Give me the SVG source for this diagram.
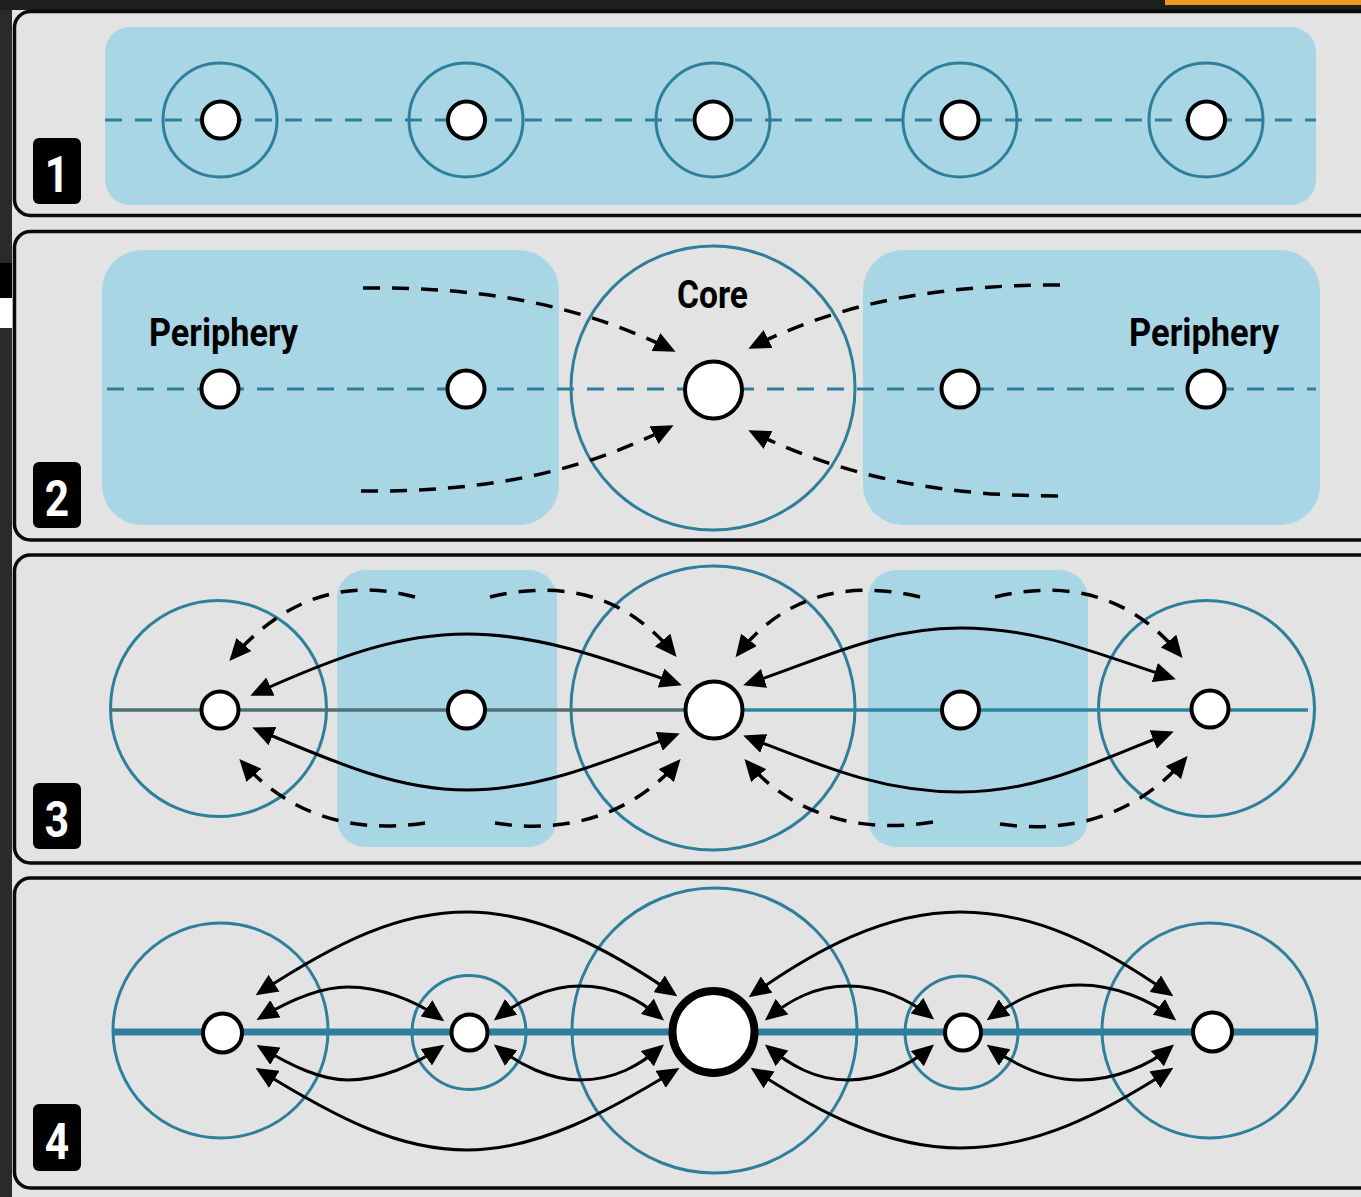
<svg xmlns="http://www.w3.org/2000/svg" width="1361" height="1197" viewBox="0 0 1361 1197">
<style>
.panel{fill:#e3e3e3;stroke:#0a0a0a;stroke-width:3.5}
.blue{fill:#a8d6e5}
.ring{fill:none;stroke:#2e7f9b;stroke-width:3}
.node{fill:#fff;stroke:#000;stroke-width:4}
.node.big{stroke-width:8}
.tdash{fill:none;stroke:#2e7f9b;stroke-width:3.2;stroke-dasharray:17 13}
.kdash{fill:none;stroke:#000;stroke-width:3.5;stroke-dasharray:17 12;marker-end:url(#ah)}
.arc{fill:none;stroke:#000;stroke-width:3;marker-start:url(#ah);marker-end:url(#ah)}
.lblbox{fill:#000}
.lbl{fill:#fff;font-family:Roboto,"Liberation Sans",sans-serif;font-weight:bold;font-size:50px;text-anchor:middle}
.title{fill:#000;font-family:Roboto,"Liberation Sans",sans-serif;font-weight:bold;font-size:38px}
</style>
<defs>
<marker id="ah" viewBox="0 0 22 20" refX="18" refY="10" markerWidth="22" markerHeight="20" markerUnits="userSpaceOnUse" orient="auto-start-reverse">
<path d="M0,0 L22,10 L0,20 z" fill="#000"/>
</marker>
</defs>
<rect x="0" y="0" width="1361" height="1197" fill="#e3e3e3"/>
<rect x="0" y="0" width="12" height="1197" fill="#2a2a2a"/>
<rect x="0" y="0" width="1361" height="10" fill="#1e1e1e"/>
<rect x="1165" y="0" width="196" height="5" fill="#f0961e"/>
<rect x="0" y="263" width="12" height="35" fill="#000"/>
<rect x="0" y="298" width="12" height="30" fill="#fff"/>

<g id="panels">
<rect class="panel" x="14.5" y="11.5" width="1400" height="204" rx="16"/>
<rect class="panel" x="14.5" y="231.5" width="1400" height="308.5" rx="16"/>
<rect class="panel" x="14.5" y="555" width="1400" height="308" rx="16"/>
<rect class="panel" x="14.5" y="878" width="1400" height="310" rx="16"/>
</g>

<g id="regions">
<rect class="blue" x="105" y="27" width="1211" height="178" rx="25"/>
<rect class="blue" x="102" y="250" width="457" height="275" rx="40"/>
<rect class="blue" x="863" y="250" width="457" height="275" rx="40"/>
<rect class="blue" x="337" y="570" width="220" height="277" rx="28"/>
<rect class="blue" x="868" y="570" width="220" height="277" rx="28"/>
</g>

<g id="zones">
<circle class="ring" cx="220" cy="120" r="57"/>
<circle class="ring" cx="466" cy="120" r="57"/>
<circle class="ring" cx="713" cy="120" r="57"/>
<circle class="ring" cx="960" cy="120" r="57"/>
<circle class="ring" cx="1206" cy="120" r="57"/>
<circle class="ring" cx="713" cy="388" r="142"/>
<circle class="ring" cx="218.5" cy="708.5" r="108"/>
<circle class="ring" cx="713" cy="708" r="142"/>
<circle class="ring" cx="1206.5" cy="708.5" r="108"/>
<circle class="ring" cx="220.5" cy="1030.5" r="107.5"/>
<circle class="ring" cx="469" cy="1032.5" r="57"/>
<circle class="ring" cx="714.5" cy="1030.5" r="142.5"/>
<circle class="ring" cx="961.5" cy="1032.5" r="56.5"/>
<circle class="ring" cx="1209.5" cy="1030.5" r="107.5"/>
</g>

<g id="axes">
<line class="tdash" x1="105" y1="120" x2="1316" y2="120"/>
<line class="tdash" x1="107" y1="389" x2="1316" y2="389"/>
<line x1="111" y1="710" x2="690" y2="710" stroke="#4f6e76" stroke-width="3.5"/>
<line x1="740" y1="710" x2="1308" y2="710" stroke="#2d86a0" stroke-width="3.5"/>
<line x1="113" y1="1032" x2="1316" y2="1032" stroke="#2e7f9b" stroke-width="7"/>
</g>

<g id="connectors">
<path class="kdash" d="M363,288 C470,287 570,300 672,350"/>
<path class="kdash" d="M361,491 C470,492 570,478 670,427"/>
<path class="kdash" d="M1060,285 C950,285 850,298 752,347"/>
<path class="kdash" d="M1058,496 C950,496 850,480 752,432"/>

<path class="arc" d="M254,694 C340,655 400,634 467,634 C540,634 610,660 678,684"/>
<path class="arc" d="M256,729 C340,765 400,790 467,790 C540,790 610,760 676,735"/>
<path class="arc" d="M747,684 C820,660 880,628 960,628 C1040,628 1100,655 1172,678"/>
<path class="arc" d="M747,737 C820,765 880,792 960,792 C1040,792 1100,760 1170,733"/>
<path class="kdash" d="M415,597 C345,578 285,598 232,658"/>
<path class="kdash" d="M490,597 C570,578 630,600 674,654"/>
<path class="kdash" d="M920,597 C840,578 780,600 738,654"/>
<path class="kdash" d="M995,597 C1075,578 1135,600 1180,655"/>
<path class="kdash" d="M425,823 C345,835 285,810 242,762"/>
<path class="kdash" d="M495,823 C570,835 635,812 678,762"/>
<path class="kdash" d="M933,822 C855,835 790,812 747,762"/>
<path class="kdash" d="M1000,824 C1075,835 1140,812 1185,759"/>

<path class="arc" d="M259,993 C340,940 400,912 467,912 C540,912 610,950 674,994"/>
<path class="arc" d="M259,1070 C340,1120 400,1150 467,1150 C540,1150 610,1110 676,1070"/>
<path class="arc" d="M260,1018 C290,1000 320,987 348,987 C380,987 415,1000 441,1019"/>
<path class="arc" d="M260,1047 C290,1065 320,1080 348,1080 C380,1080 415,1065 441,1047"/>
<path class="arc" d="M497,1018 C520,1000 550,986 580,986 C615,986 640,1000 661,1018"/>
<path class="arc" d="M497,1047 C520,1065 550,1080 580,1080 C615,1080 640,1065 661,1047"/>
<path class="arc" d="M768,1018 C790,1000 815,986 848,986 C880,986 910,1000 931,1017"/>
<path class="arc" d="M768,1047 C790,1065 815,1080 848,1080 C880,1080 910,1065 931,1047"/>
<path class="arc" d="M990,1018 C1015,1000 1045,985 1080,985 C1115,985 1150,1000 1173,1018"/>
<path class="arc" d="M990,1047 C1015,1065 1045,1080 1080,1080 C1115,1080 1150,1065 1171,1047"/>
<path class="arc" d="M752,995 C815,950 885,912 960,912 C1035,912 1100,945 1170,994"/>
<path class="arc" d="M754,1070 C815,1110 885,1148 960,1148 C1035,1148 1100,1115 1170,1070"/>
</g>

<g id="p1-n1"><circle class="node" cx="220.5" cy="120" r="18.5"/></g>
<g id="p1-n2"><circle class="node" cx="466.5" cy="120" r="18.5"/></g>
<g id="p1-n3"><circle class="node" cx="713" cy="120" r="18.5"/></g>
<g id="p1-n4"><circle class="node" cx="960" cy="120" r="18.5"/></g>
<g id="p1-n5"><circle class="node" cx="1206.5" cy="120" r="18.5"/></g>

<g id="p2-n1"><circle class="node" cx="220" cy="389" r="18.5"/></g>
<g id="p2-n2"><circle class="node" cx="466" cy="389" r="18.5"/></g>
<g id="p2-core"><circle class="node" cx="713.5" cy="390" r="28.5"/><text class="title" x="677" y="308" textLength="71" lengthAdjust="spacingAndGlyphs" font-size="37">Core</text></g>
<g id="p2-n4"><circle class="node" cx="960" cy="389" r="18.5"/></g>
<g id="p2-n5"><circle class="node" cx="1206" cy="389" r="18.5"/></g>
<g id="p2-periphery-left"><text class="title" x="149" y="346" textLength="149" lengthAdjust="spacingAndGlyphs">Periphery</text></g>
<g id="p2-periphery-right"><text class="title" x="1129" y="346" textLength="150" lengthAdjust="spacingAndGlyphs">Periphery</text></g>

<g id="p3-n1"><circle class="node" cx="220" cy="710" r="18.5"/></g>
<g id="p3-n2"><circle class="node" cx="466.5" cy="710" r="18.5"/></g>
<g id="p3-core"><circle class="node" cx="714" cy="710" r="28.5"/></g>
<g id="p3-n4"><circle class="node" cx="960.5" cy="710" r="18.5"/></g>
<g id="p3-n5"><circle class="node" cx="1210" cy="709" r="18.5"/></g>

<g id="p4-n1"><circle class="node" cx="222.5" cy="1033" r="19.5"/></g>
<g id="p4-n2"><circle class="node" cx="469.5" cy="1032.5" r="18"/></g>
<g id="p4-core"><circle class="node big" cx="713.5" cy="1032" r="41"/></g>
<g id="p4-n4"><circle class="node" cx="963" cy="1032.5" r="18"/></g>
<g id="p4-n5"><circle class="node" cx="1212.5" cy="1032" r="19.5"/></g>

<g id="label-1"><rect class="lblbox" x="33" y="138" width="48" height="66" rx="6"/><text class="lbl" x="57" y="192" transform="translate(57 0) scale(0.85 1) translate(-57 0)">1</text></g>
<g id="label-2"><rect class="lblbox" x="33" y="462" width="48" height="66" rx="6"/><text class="lbl" x="57" y="516" transform="translate(57 0) scale(0.85 1) translate(-57 0)">2</text></g>
<g id="label-3"><rect class="lblbox" x="33" y="783" width="48" height="66" rx="6"/><text class="lbl" x="57" y="837" transform="translate(57 0) scale(0.85 1) translate(-57 0)">3</text></g>
<g id="label-4"><rect class="lblbox" x="33" y="1104" width="48" height="67" rx="6"/><text class="lbl" x="57" y="1159" transform="translate(57 0) scale(0.85 1) translate(-57 0)">4</text></g>
</svg>
